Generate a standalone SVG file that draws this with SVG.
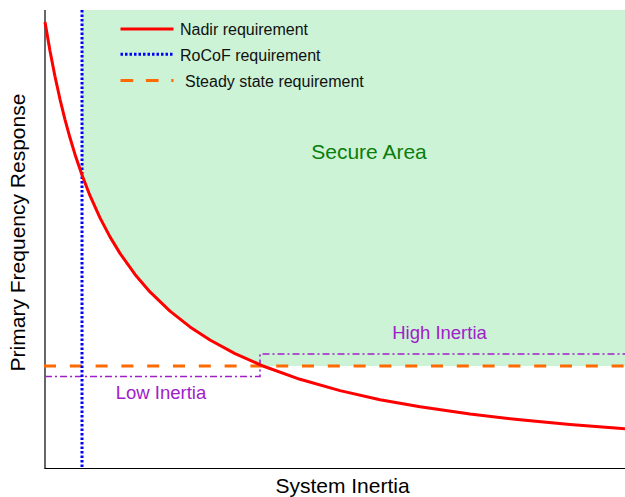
<svg xmlns="http://www.w3.org/2000/svg" width="625" height="497" viewBox="0 0 625 497">
  <style>
    text { font-family: "Liberation Sans", Arial, sans-serif; }
    .axis { stroke: #000; stroke-width: 1.2; fill: none; }
    .nadir { stroke: #ff0000; stroke-width: 3; fill: none; stroke-linejoin: round; }
    .rocof { stroke: #0000ff; stroke-width: 3; fill: none; stroke-dasharray: 2.5 2; }
    .steady { stroke: #ff6a00; stroke-width: 3; fill: none; stroke-dasharray: 12 13.8; }
    .inertia { stroke: #a020c8; stroke-width: 1.6; fill: none; stroke-dasharray: 7 3 2 3; }
    .legend { font-size: 16px; fill: #111; }
    .region { font-size: 18.5px; fill: #a020c8; }
    .axislabel { font-size: 21px; fill: #000; }
  </style>

  <rect width="625" height="497" fill="#fff"/>

  <!-- secure operating region: above nadir curve, steady-state limit, right of RoCoF limit -->
  <path id="secure-area" fill="#ccf3d6"
        d="M82,10 H625 V366 H263 L235,353.6 L210,340 L190,326.9 L170,311.1 L150,291.9 L135,274.4 L120,253.4 L110,236.9 L100,217.9 L90,195.7 L82,175 Z"/>

  <g id="axes">
    <line class="axis" x1="45" y1="10" x2="45" y2="468.5"/>
    <line class="axis" x1="44.4" y1="468.5" x2="625" y2="468.5"/>
  </g>

  <g id="connectors">
    <!-- low / high inertia operating envelope -->
    <path class="inertia" d="M45,376.5 H260 V354 H625"/>
    <!-- steady state requirement -->
    <line class="steady" x1="44" y1="366" x2="625" y2="366"/>
    <!-- RoCoF requirement -->
    <line class="rocof" x1="82" y1="10" x2="82" y2="468"/>
    <!-- nadir requirement -->
    <path class="nadir"
          d="M45,22 L50,51 L55,76.5 L60,99.3 L65,119.6 L70,137.8 L75,154.4 L82,175 L90,195.7 L100,217.9 L110,236.9 L120,253.4 L135,274.4 L150,291.9 L170,311.1 L190,326.9 L210,340 L235,353.6 L263,366 L300,379.3 L340,390.6 L380,399.7 L420,406.8 L470,414 L520,419.8 L570,424.6 L625,428.8"/>
  </g>

  <g id="legend">
    <line class="nadir" x1="120.5" y1="29" x2="173.5" y2="29"/>
    <text class="legend" x="180" y="35">Nadir requirement</text>
    <line class="rocof" x1="120.5" y1="54.3" x2="173.5" y2="54.3"/>
    <text class="legend" x="180" y="60.5">RoCoF requirement</text>
    <line class="steady" x1="120.5" y1="80.5" x2="173.5" y2="80.5" style="stroke-dasharray: 12.7 12.7"/>
    <text class="legend" x="185" y="86.5">Steady state requirement</text>
  </g>

  <g id="labels">
    <text x="369" y="159" font-size="21" fill="#0a7d0a" text-anchor="middle">Secure Area</text>
    <text class="region" x="439.5" y="338.5" text-anchor="middle">High Inertia</text>
    <text class="region" x="161" y="398.5" text-anchor="middle">Low Inertia</text>
    <text class="axislabel" x="342.5" y="492.5" text-anchor="middle">System Inertia</text>
    <text class="axislabel" transform="translate(25.3,232.5) rotate(-90)" text-anchor="middle">Primary Frequency Response</text>
  </g>
</svg>
